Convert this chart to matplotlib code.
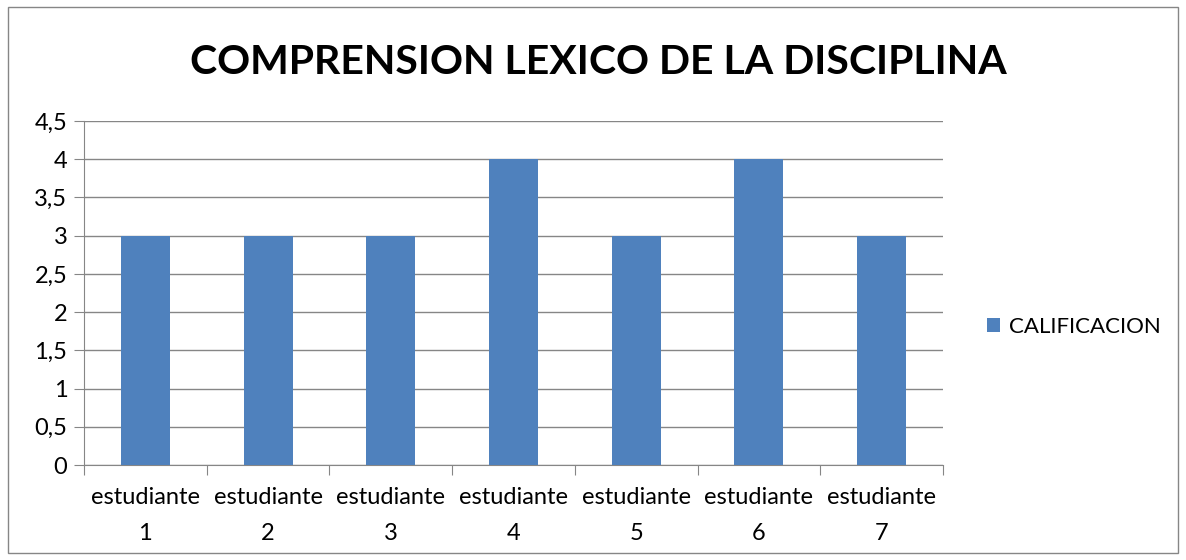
import matplotlib.pyplot as plt
from matplotlib.patches import Rectangle

# data
categorias = ['estudiante\n1', 'estudiante\n2', 'estudiante\n3', 'estudiante\n4',
              'estudiante\n5', 'estudiante\n6', 'estudiante\n7']
calificacion = [3, 3, 3, 4, 3, 4, 3]
yticks = [0, 0.5, 1, 1.5, 2, 2.5, 3, 3.5, 4, 4.5]
ytick_labels = ['0', '0,5', '1', '1,5', '2', '2,5', '3', '3,5', '4', '4,5']

W, H = 1186, 560
plt.rcParams['font.family'] = ['Lato', 'DejaVu Sans']
fig = plt.figure(figsize=(W / 100, H / 100), dpi=100)

# outer border of the chart
fig.patches.append(Rectangle((8 / W, 1 - 553 / H), 1170 / W, 546 / H,
                             transform=fig.transFigure, fill=False,
                             edgecolor='#868686', linewidth=1))

ax = fig.add_axes([84 / W, 1 - 465 / H, (943 - 84) / W, (465 - 121) / H])
grid_col = '#868686'

x = list(range(len(categorias)))
ax.bar(x, calificacion, width=0.4, color='#4F81BD', label='CALIFICACION', zorder=3)

ax.set_xlim(-0.5, len(categorias) - 0.5)
ax.set_ylim(0, 4.5)
ax.set_yticks(yticks)
ax.set_yticklabels(ytick_labels, fontsize=17)
ax.yaxis.grid(True, color=grid_col, linewidth=1, zorder=0)

# category ticks at boundaries, labels at centres
ax.set_xticks([i - 0.5 for i in range(len(categorias) + 1)])
ax.set_xticklabels([])
ax.set_xticks(x, minor=True)
ax.set_xticklabels(categorias, minor=True, fontsize=17, linespacing=1.85)
ax.tick_params(axis='x', which='major', length=7, color=grid_col)
ax.tick_params(axis='x', which='minor', length=0, pad=16)
ax.tick_params(axis='y', length=7, color=grid_col, pad=5)

for s in ['top', 'right']:
    ax.spines[s].set_visible(False)
for s in ['left', 'bottom']:
    ax.spines[s].set_color(grid_col)

fig.text(598 / W, 1 - 62 / H, 'COMPRENSION LEXICO DE LA DISCIPLINA',
         ha='center', va='center', fontsize=29.5, fontweight='bold')

fig.legend(loc='center left', bbox_to_anchor=(978 / W, 1 - 327 / H),
           frameon=False, fontsize=16, handlelength=0.6, handleheight=0.6,
           handletextpad=0.4, borderaxespad=0)

fig.savefig('out.png', dpi=100)
